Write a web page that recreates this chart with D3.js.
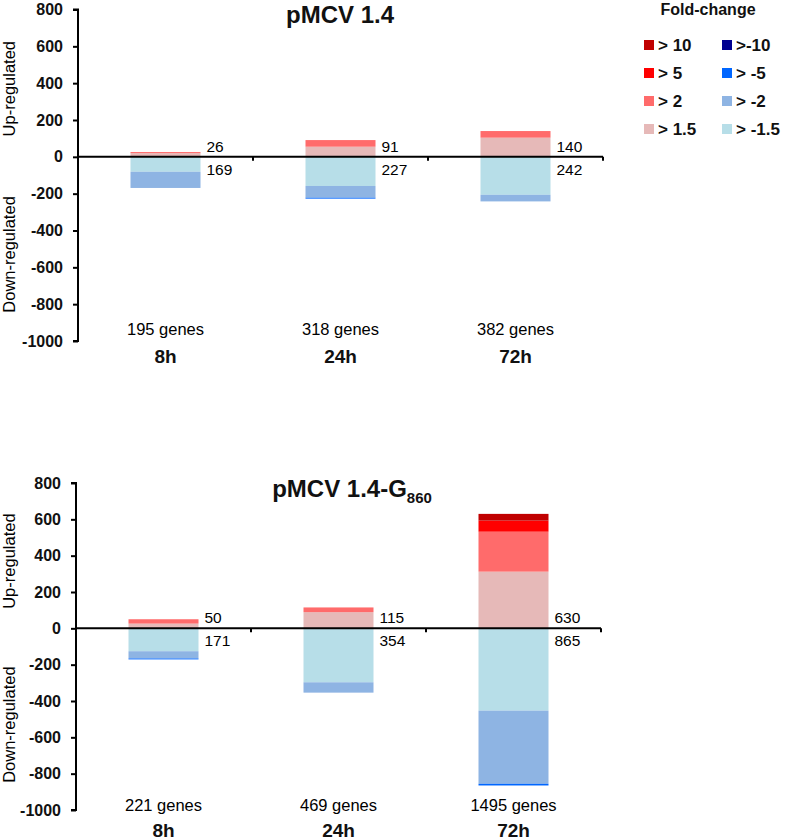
<!DOCTYPE html>
<html>
<head>
<meta charset="utf-8">
<script src="https://cdn.jsdelivr.net/npm/d3@7"></script>
<style>
  body { margin: 0; background: #fff; }
  svg { display: block; font-family: "Liberation Sans", Arial, sans-serif; }
</style>
</head>
<body>
<svg id="chart" width="786" height="840"></svg>
<script>
// time points shared by both panels
var categories = ["8h", "24h", "72h"];

// stacking order, from the zero line outward
var upKeys = ["> 1.5", "> 2", "> 5", "> 10"];
var downKeys = ["> -1.5", "> -2", "> -5", ">-10"];

var upColors = ["#e6b9b8", "#ff6b6b", "#ff0000", "#c00000"];
var downColors = ["#b7dee8", "#8eb4e3", "#0066ff", "#000090"];

var yTicks = [-1000, -800, -600, -400, -200, 0, 200, 400, 600, 800];

// pMCV 1.4 : genes per fold-change class, one array per time point
var p14Up = [[20, 6, 0, 0], [55, 36, 0, 0], [104, 36, 0, 0]];
var p14Down = [[81, 88, 0, 0], [158, 64, 5, 0], [206, 36, 0, 0]];
var p14UpTotal = [26, 91, 140];
var p14DownTotal = [169, 227, 242];
var p14Genes = [195, 318, 382];

// pMCV 1.4-G860
var gUp = [[26, 24, 0, 0], [89, 26, 0, 0], [312, 220, 61, 37]];
var gDown = [[126, 40, 5, 0], [297, 57, 0, 0], [453, 403, 9, 0]];
var gUpTotal = [50, 115, 630];
var gDownTotal = [171, 354, 865];
var gGenes = [221, 469, 1495];

var svg = d3.select("#chart");

function drawPanel(opts) {
    var g = svg.append("g");

    var x = d3.scaleBand().domain(categories)
        .range([opts.left, opts.right])
        .paddingInner(0.6).paddingOuter(0.3);
    var y = d3.scaleLinear().domain([-1000, 800]).range([opts.bottom, opts.top]);

    // rows for d3.stack, down-regulated counts are negative
    var rows = categories.map(function (c, i) {
        var r = { cat: c };
        upKeys.forEach(function (k, j) { r[k] = opts.up[i][j]; });
        downKeys.forEach(function (k, j) { r[k] = -opts.down[i][j]; });
        return r;
    });
    var keys = upKeys.concat(downKeys);
    var colors = upColors.concat(downColors);
    var series = d3.stack().keys(keys).offset(d3.stackOffsetDiverging)(rows);

    g.selectAll("g.layer").data(series).enter().append("g")
        .attr("class", "layer")
        .attr("fill", function (d, i) { return colors[i]; })
        .selectAll("rect").data(function (d) { return d; }).enter().append("rect")
        .attr("x", function (d) { return x(d.data.cat); })
        .attr("width", x.bandwidth())
        .attr("y", function (d) { return y(Math.max(d[0], d[1])); })
        .attr("height", function (d) { return Math.abs(y(d[0]) - y(d[1])); });

    // y axis
    var yAxis = d3.axisLeft(y).tickValues(yTicks).tickSize(5).tickPadding(10)
        .tickFormat(function (d) { return String(d); });
    var ya = g.append("g").attr("transform", "translate(" + opts.left + ",0)").call(yAxis);
    ya.select(".domain").attr("stroke-width", 2).attr("d",
        "M-5," + y(800) + "H0V" + y(-1000) + "H-5");
    ya.selectAll(".tick line").attr("stroke-width", 2);
    ya.selectAll(".tick text").attr("font-size", 16).attr("font-weight", "bold")
        .attr("fill", "#111").attr("font-family", "Liberation Sans, Arial, sans-serif");

    // zero line with small ticks at band edges
    g.append("line")
        .attr("x1", opts.left).attr("x2", opts.right)
        .attr("y1", y(0)).attr("y2", y(0))
        .attr("stroke", "#000").attr("stroke-width", 2);
    g.selectAll("line.sep").data(categories).enter().append("line")
        .attr("class", "sep")
        .attr("x1", function (d) { return x(d) + x.bandwidth() + x.step() * 0.3; })
        .attr("x2", function (d) { return x(d) + x.bandwidth() + x.step() * 0.3; })
        .attr("y1", y(0)).attr("y2", y(0) + 4)
        .attr("stroke", "#000").attr("stroke-width", 2);

    // totals next to the bars
    g.selectAll("text.upT").data(opts.upTotal).enter().append("text")
        .attr("x", function (d, i) { return x(categories[i]) + x.bandwidth() + 6; })
        .attr("y", y(0) - 5)
        .attr("font-size", 15.5).attr("fill", "#000")
        .text(function (d) { return d; });
    g.selectAll("text.downT").data(opts.downTotal).enter().append("text")
        .attr("x", function (d, i) { return x(categories[i]) + x.bandwidth() + 6; })
        .attr("y", y(0) + 18)
        .attr("font-size", 15.5).attr("fill", "#000")
        .text(function (d) { return d; });

    // gene counts and time labels
    g.selectAll("text.genes").data(opts.genes).enter().append("text")
        .attr("x", function (d, i) { return x(categories[i]) + x.bandwidth() / 2; })
        .attr("y", opts.genesY)
        .attr("text-anchor", "middle").attr("font-size", 16.5).attr("fill", "#000")
        .text(function (d) { return d + " genes"; });
    g.selectAll("text.cat").data(categories).enter().append("text")
        .attr("x", function (d) { return x(d) + x.bandwidth() / 2; })
        .attr("y", opts.catY)
        .attr("text-anchor", "middle").attr("font-size", 19).attr("font-weight", "bold")
        .attr("fill", "#111")
        .text(function (d) { return d; });

    // rotated y titles
    g.append("text")
        .attr("transform", "translate(15," + y(370) + ") rotate(-90)")
        .attr("text-anchor", "middle").attr("font-size", 16.5).attr("fill", "#000")
        .text("Up-regulated");
    g.append("text")
        .attr("transform", "translate(15," + y(-530) + ") rotate(-90)")
        .attr("text-anchor", "middle").attr("font-size", 16.5).attr("fill", "#000")
        .text("Down-regulated");

    // title
    var t = g.append("text")
        .attr("x", opts.titleX).attr("y", opts.titleY)
        .attr("text-anchor", "middle").attr("font-size", 24).attr("font-weight", "bold")
        .attr("fill", "#111");
    t.append("tspan").text(opts.title);
    if (opts.sub) {
        t.append("tspan").attr("font-size", 15).attr("dy", 6).text(opts.sub);
    }
}

drawPanel({
    left: 78, right: 603, top: 9.5, bottom: 341,
    up: p14Up, down: p14Down, upTotal: p14UpTotal, downTotal: p14DownTotal,
    genes: p14Genes, genesY: 335, catY: 363,
    title: "pMCV 1.4", titleX: 340, titleY: 23
});

drawPanel({
    left: 76, right: 601, top: 483, bottom: 810,
    up: gUp, down: gDown, upTotal: gUpTotal, downTotal: gDownTotal,
    genes: gGenes, genesY: 811, catY: 837,
    title: "pMCV 1.4-G", sub: "860", titleX: 352, titleY: 497
});

// legend
var legend = svg.append("g");
legend.append("text")
    .attr("x", 708).attr("y", 15)
    .attr("text-anchor", "middle").attr("font-size", 16).attr("font-weight", "bold")
    .attr("fill", "#111")
    .text("Fold-change");

var legendUp = upKeys.slice().reverse();
var legendUpColors = upColors.slice().reverse();
var legendDown = downKeys.slice().reverse();
var legendDownColors = downColors.slice().reverse();
var rowY = d3.scalePoint().domain(d3.range(4)).range([45, 129]);

[[legendUp, legendUpColors, 644], [legendDown, legendDownColors, 722]].forEach(function (col) {
    var items = legend.selectAll(null).data(col[0]).enter().append("g")
        .attr("transform", function (d, i) { return "translate(" + col[2] + "," + rowY(i) + ")"; });
    items.append("rect")
        .attr("x", 0).attr("y", -5).attr("width", 10).attr("height", 10)
        .attr("fill", function (d, i) { return col[1][i]; });
    items.append("text")
        .attr("x", 14).attr("y", 6)
        .attr("font-size", 17).attr("font-weight", "bold").attr("fill", "#111")
        .text(function (d) { return d; });
});
</script>
</body>
</html>
